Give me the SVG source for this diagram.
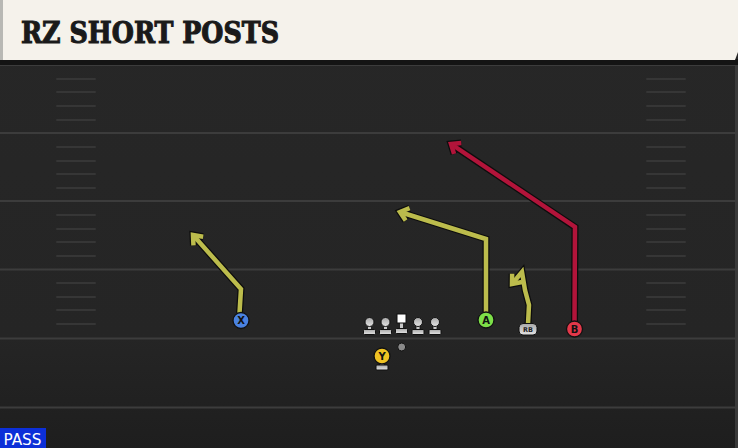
<svg xmlns="http://www.w3.org/2000/svg" width="738" height="448" viewBox="0 0 738 448">
<defs>
<style>
.yl{stroke:#3c3c3c;stroke-width:2;fill:none}
.hs{stroke:#363636;stroke-width:2;stroke-linecap:round}
.rt-o{fill:none;stroke:#0d0d0d;stroke-width:7;stroke-linejoin:miter;stroke-linecap:butt}
.rt-y{fill:none;stroke:#bcbc4c;stroke-width:4.5;stroke-linejoin:miter}
.rt-r{fill:none;stroke:#b2143a;stroke-width:4.5;stroke-linejoin:miter}
.pl{stroke:#111;stroke-width:1.3}
.lt{font-family:"DejaVu Sans","Liberation Sans",sans-serif;font-weight:bold;font-size:10px;fill:#111;text-anchor:middle}
.ol{stroke:#111;stroke-width:1}
.st{fill:#c8c8c8;stroke:#111;stroke-width:0.8}
</style>
<linearGradient id="fg" x1="0" y1="0" x2="0" y2="1">
<stop offset="0" stop-color="#272727"/>
<stop offset="0.75" stop-color="#252525"/>
<stop offset="1" stop-color="#1e1e1e"/>
</linearGradient>
<linearGradient id="olg" x1="0" y1="0" x2="0" y2="1">
<stop offset="0" stop-color="#a8a8a8"/>
<stop offset="1" stop-color="#e4e4e4"/>
</linearGradient>
<marker id="ao" markerUnits="userSpaceOnUse" markerWidth="30" markerHeight="30" viewBox="-15 -15 30 30" refX="0" refY="0" orient="auto" overflow="visible">
<path d="M-8,-6.5 L0,0 L-8,6.5" fill="none" stroke="#0d0d0d" stroke-width="7"/>
</marker>
<marker id="ay" markerUnits="userSpaceOnUse" markerWidth="30" markerHeight="30" viewBox="-15 -15 30 30" refX="0" refY="0" orient="auto" overflow="visible">
<path d="M-8,-6.5 L0,0 L-8,6.5" fill="none" stroke="#bcbc4c" stroke-width="4.5"/>
</marker>
<marker id="ar" markerUnits="userSpaceOnUse" markerWidth="30" markerHeight="30" viewBox="-15 -15 30 30" refX="0" refY="0" orient="auto" overflow="visible">
<path d="M-8,-6.5 L0,0 L-8,6.5" fill="none" stroke="#b2143a" stroke-width="4.5"/>
</marker>
</defs>

<rect x="0" y="0" width="738" height="448" fill="url(#fg)"/>
<rect x="735" y="60" width="3" height="388" fill="#3a3a3a"/>

<g id="field">
<line class="yl" x1="0" y1="65" x2="738" y2="65"/>
<line class="yl" x1="0" y1="133" x2="738" y2="133"/>
<line class="yl" x1="0" y1="201" x2="738" y2="201"/>
<line class="yl" x1="0" y1="269.5" x2="738" y2="269.5"/>
<line class="yl" x1="0" y1="338.5" x2="738" y2="338.5"/>
<line class="yl" x1="0" y1="407.5" x2="738" y2="407.5" stroke="#303030"/>
<g class="hs">
<line x1="57" y1="79" x2="95" y2="79"/><line x1="647" y1="79" x2="685" y2="79"/>
<line x1="57" y1="92" x2="95" y2="92"/><line x1="647" y1="92" x2="685" y2="92"/>
<line x1="57" y1="106" x2="95" y2="106"/><line x1="647" y1="106" x2="685" y2="106"/>
<line x1="57" y1="120" x2="95" y2="120"/><line x1="647" y1="120" x2="685" y2="120"/>
<line x1="57" y1="147" x2="95" y2="147"/><line x1="647" y1="147" x2="685" y2="147"/>
<line x1="57" y1="161" x2="95" y2="161"/><line x1="647" y1="161" x2="685" y2="161"/>
<line x1="57" y1="174" x2="95" y2="174"/><line x1="647" y1="174" x2="685" y2="174"/>
<line x1="57" y1="188" x2="95" y2="188"/><line x1="647" y1="188" x2="685" y2="188"/>
<line x1="57" y1="215" x2="95" y2="215"/><line x1="647" y1="215" x2="685" y2="215"/>
<line x1="57" y1="229" x2="95" y2="229"/><line x1="647" y1="229" x2="685" y2="229"/>
<line x1="57" y1="242" x2="95" y2="242"/><line x1="647" y1="242" x2="685" y2="242"/>
<line x1="57" y1="256" x2="95" y2="256"/><line x1="647" y1="256" x2="685" y2="256"/>
<line x1="57" y1="283" x2="95" y2="283"/><line x1="647" y1="283" x2="685" y2="283"/>
<line x1="57" y1="297" x2="95" y2="297"/><line x1="647" y1="297" x2="685" y2="297"/>
<line x1="57" y1="310" x2="95" y2="310"/><line x1="647" y1="310" x2="685" y2="310"/>
<line x1="57" y1="324" x2="95" y2="324"/><line x1="647" y1="324" x2="685" y2="324"/>
</g>
</g>

<g id="header">
<rect x="0" y="59" width="738" height="6" fill="#141414"/>
<path d="M0,0 H738 V52 L735,60 H0 Z" fill="#f5f2eb"/>
<rect x="0" y="0" width="3" height="60" fill="#b8b8b4"/>
<text x="21" y="43" font-family="'DejaVu Serif','Liberation Serif',serif" font-weight="bold" font-size="29" fill="#1a1a1a" stroke="#1a1a1a" stroke-width="1.1" textLength="258" lengthAdjust="spacingAndGlyphs">RZ SHORT POSTS</text>
</g>

<g id="connectors">
<g id="route-x">
<polyline class="rt-o" points="239.5,313 241,289 193,235" marker-end="url(#ao)"/>
<polyline class="rt-y" points="239.5,313 241,289 193,235" marker-end="url(#ay)"/>
</g>
<g id="route-a">
<polyline class="rt-o" points="486,312 486,239 400,212" marker-end="url(#ao)"/>
<polyline class="rt-y" points="486,312 486,239 400,212" marker-end="url(#ay)"/>
</g>
<g id="route-b">
<polyline class="rt-o" points="574.5,321 575,227 451,144" marker-end="url(#ao)"/>
<polyline class="rt-r" points="574.5,321 575,227 451,144" marker-end="url(#ar)"/>
</g>
<g id="route-rb">
<polyline class="rt-o" points="528,324 529,305 525,290 522,272 512,284" marker-end="url(#ao)"/>
<polyline class="rt-y" points="528,324 529,305 525,290 522,272 512,284" marker-end="url(#ay)"/>
</g>
</g>

<g id="line">
<g id="lt">
<rect x="367.5" y="322" width="4" height="9" class="st"/>
<rect x="363.5" y="329.5" width="12" height="5" rx="1" fill="url(#olg)" class="ol"/>
<circle cx="369.5" cy="322" r="4.5" fill="url(#olg)" class="ol"/>
</g>
<g id="lg">
<rect x="383.5" y="322" width="4" height="9" class="st"/>
<rect x="379.5" y="329.5" width="12" height="5" rx="1" fill="url(#olg)" class="ol"/>
<circle cx="385.5" cy="322" r="4.5" fill="url(#olg)" class="ol"/>
</g>
<g id="c">
<rect x="399.5" y="321" width="4" height="9" class="st"/>
<rect x="395.5" y="328.5" width="12" height="5" rx="1" fill="url(#olg)" class="ol"/>
<rect x="397" y="314" width="9" height="9" fill="#ffffff" stroke="#111" stroke-width="1"/>
</g>
<g id="rg">
<rect x="416" y="322" width="4" height="9" class="st"/>
<rect x="412" y="329.5" width="12" height="5" rx="1" fill="url(#olg)" class="ol"/>
<circle cx="418" cy="322" r="4.5" fill="url(#olg)" class="ol"/>
</g>
<g id="rt">
<rect x="433" y="322" width="4" height="9" class="st"/>
<rect x="429" y="329.5" width="12" height="5" rx="1" fill="url(#olg)" class="ol"/>
<circle cx="435" cy="322" r="4.5" fill="url(#olg)" class="ol"/>
</g>
</g>

<g id="ball">
<circle cx="401.7" cy="347" r="4" fill="#8a8a8a" stroke="#111" stroke-width="1"/>
</g>

<g id="x">
<circle cx="241" cy="320.5" r="8" fill="#4a82e0" class="pl"/>
<text class="lt" x="241" y="324.2">X</text>
</g>
<g id="y">
<rect x="380" y="362" width="4" height="4" class="st"/>
<rect x="376" y="365" width="12" height="5" rx="1" fill="url(#olg)" class="ol"/>
<circle cx="382" cy="356" r="8" fill="#f0c323" class="pl"/>
<text class="lt" x="382" y="359.7">Y</text>
</g>
<g id="a">
<circle cx="486" cy="320" r="8" fill="#7ddf48" class="pl"/>
<text class="lt" x="486" y="323.7">A</text>
</g>
<g id="rb">
<rect x="519" y="323.5" width="18" height="11.5" rx="4" fill="url(#olg)" class="ol"/>
<text x="528" y="332.3" font-family="'DejaVu Sans',sans-serif" font-weight="bold" font-size="6.5" fill="#222" text-anchor="middle">RB</text>
</g>
<g id="b">
<circle cx="574.5" cy="329" r="8" fill="#e3384a" class="pl"/>
<text class="lt" x="574.5" y="332.7">B</text>
</g>

<g id="pass">
<rect x="0" y="428" width="46" height="20" fill="#0c2fd8"/>
<text x="3.5" y="445" font-family="'DejaVu Sans Condensed','DejaVu Sans',sans-serif" font-size="16" fill="#ffffff" textLength="38" lengthAdjust="spacingAndGlyphs">PASS</text>
</g>
</svg>
